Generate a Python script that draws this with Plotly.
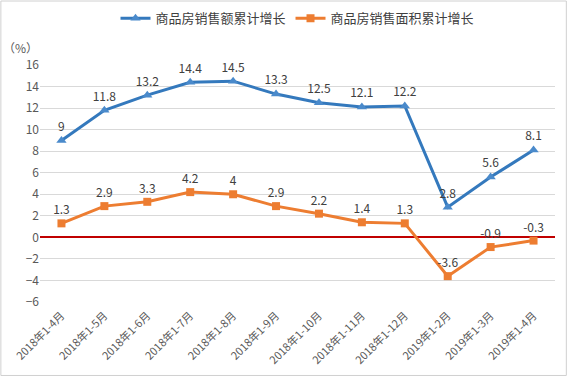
import plotly.graph_objects as go

categories = ["2018年1-4月", "2018年1-5月", "2018年1-6月", "2018年1-7月", "2018年1-8月",
              "2018年1-9月", "2018年1-10月", "2018年1-11月", "2018年1-12月",
              "2019年1-2月", "2019年1-3月", "2019年1-4月"]
sales_amount = [9, 11.8, 13.2, 14.4, 14.5, 13.3, 12.5, 12.1, 12.2, 2.8, 5.6, 8.1]
sales_area = [1.3, 2.9, 3.3, 4.2, 4, 2.9, 2.2, 1.4, 1.3, -3.6, -0.9, -0.3]
y_ticks = [-6, -4, -2, 0, 2, 4, 6, 8, 10, 12, 14, 16]

font_family = "Microsoft YaHei, Noto Sans CJK SC, sans-serif"

fig = go.Figure()
fig.add_trace(go.Scatter(
    x=categories, y=sales_amount, name="商品房销售额累计增长",
    mode="lines+markers+text", text=[str(v) for v in sales_amount],
    textposition="top center", textfont=dict(size=12, color="#404040"),
    line=dict(color="#3479BD", width=3),
    marker=dict(symbol="triangle-up", size=9, color="#4A8ACB"),
    cliponaxis=False,
))
fig.add_trace(go.Scatter(
    x=categories, y=sales_area, name="商品房销售面积累计增长",
    mode="lines+markers+text", text=[str(v) for v in sales_area],
    textposition="top center", textfont=dict(size=12, color="#404040"),
    line=dict(color="#ED7D31", width=3),
    marker=dict(symbol="square", size=8, color="#ED7D31"),
    cliponaxis=False,
))

fig.update_layout(
    width=568, height=379,
    margin=dict(l=40, r=13, t=65, b=75),
    paper_bgcolor="white", plot_bgcolor="white",
    font=dict(family=font_family, color="#595959"),
    showlegend=True,
    legend=dict(orientation="h", x=0.5, xanchor="center", y=0.952, yanchor="middle",
                yref="container", font=dict(size=13, color="#404040"),
                traceorder="normal"),
    xaxis=dict(type="category", range=[-0.5, 11.5], tickangle=-45,
               tickfont=dict(size=11, color="#595959"), showgrid=False,
               showline=False, ticks="", ticklabelstandoff=4),
    yaxis=dict(range=[-6, 16], tickvals=y_ticks, tickfont=dict(size=12, color="#595959"),
               gridcolor="#D9D9D9", gridwidth=1, zeroline=True, zerolinecolor="#C00000",
               zerolinewidth=2, showline=False, ticks="", ticklen=6),
    annotations=[dict(text="（%）", xref="paper", yref="paper", x=-0.075, y=1.03,
                      xanchor="left", yanchor="bottom", showarrow=False,
                      font=dict(size=12, color="#595959"))],
    shapes=[dict(type="rect", xref="paper", yref="paper", x0=-0.076, x1=1.022,
                 y0=-0.31, y1=1.27, line=dict(color="#D0D0D0", width=1))],
)

fig.write_html("out.html", config={"displayModeBar": False},
               post_script="document.body.style.margin='0';")
